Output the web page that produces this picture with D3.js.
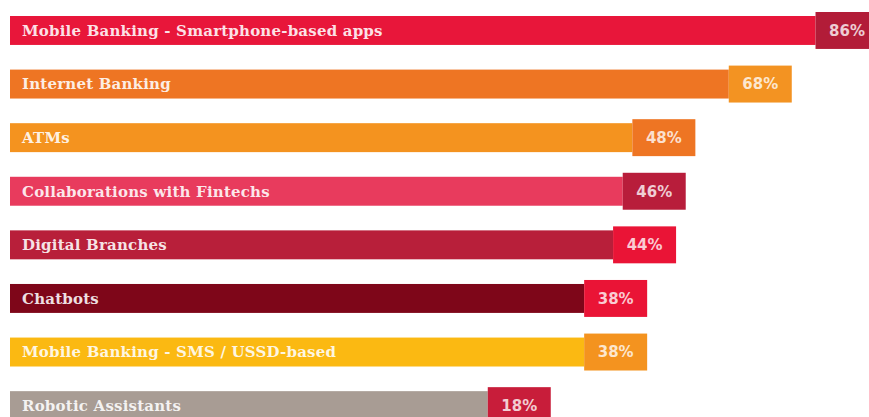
<!DOCTYPE html>
<html lang="en">
<head>
<meta charset="UTF-8">
<script src="https://d3js.org/d3.v7.min.js"></script>
<style>
  body { margin: 0; background: #fff; }
</style>
</head>
<body>
<div id="chart"></div>
<script>
    const width = 869
    const height = 417

    // data
    const categories = [
        "Mobile Banking - Smartphone-based apps",
        "Internet Banking",
        "ATMs",
        "Collaborations with Fintechs",
        "Digital Branches",
        "Chatbots",
        "Mobile Banking - SMS / USSD-based",
        "Robotic Assistants"
    ]
    const values = [86, 68, 48, 46, 44, 38, 38, 18]
    const barColors = ["#e8163a", "#ee7523", "#f4931f", "#e83b5d", "#b81f3a", "#7e0619", "#fbb912", "#a89c94"]
    const boxColors = ["#b21c38", "#f39322", "#ee7523", "#b81d3b", "#ea1436", "#ea1436", "#f4931f", "#c81d3a"]

    const svg = d3.select("#chart")
        .append("svg")
        .attr("width", width)
        .attr("height", height)

    const left = 10
    const boxW = 63

    // right edge of the value box
    const x = d3.scaleLinear()
        .domain([0, 100])
        .range([464, 946])

    const y = d3.scaleBand()
        .domain(categories)
        .range([2.6, 433.5])
        .paddingInner(0.46)
        .paddingOuter(0.25)

    const rows = svg.selectAll("g.row")
        .data(categories)
        .join("g")
        .attr("class", "row")
        .attr("transform", d => `translate(0,${y(d)})`)

    // main bar
    rows.append("rect")
        .attr("x", left)
        .attr("y", 0)
        .attr("width", (d, i) => x(values[i]) - boxW - left)
        .attr("height", y.bandwidth())
        .attr("fill", (d, i) => barColors[i])

    // value box
    rows.append("rect")
        .attr("x", (d, i) => x(values[i]) - boxW)
        .attr("y", -4)
        .attr("width", boxW)
        .attr("height", y.bandwidth() + 8)
        .attr("fill", (d, i) => boxColors[i])

    rows.append("text")
        .attr("x", 22)
        .attr("y", y.bandwidth() / 2)
        .attr("dy", "0.36em")
        .attr("fill", "#fff")
        .attr("fill-opacity", 0.88)
        .style("font-family", "'DejaVu Serif', serif")
        .style("font-size", "15px")
        .style("font-weight", "bold")
        .style("letter-spacing", "0.2px")
        .text(d => d)

    rows.append("text")
        .attr("x", (d, i) => x(values[i]) - boxW / 2)
        .attr("y", y.bandwidth() / 2)
        .attr("dy", "0.36em")
        .attr("text-anchor", "middle")
        .attr("fill", "#fff")
        .attr("fill-opacity", 0.78)
        .style("font-family", "'DejaVu Sans', sans-serif")
        .style("font-size", "15px")
        .style("font-weight", "bold")
        .text((d, i) => values[i] + "%")
</script>
</body>
</html>
